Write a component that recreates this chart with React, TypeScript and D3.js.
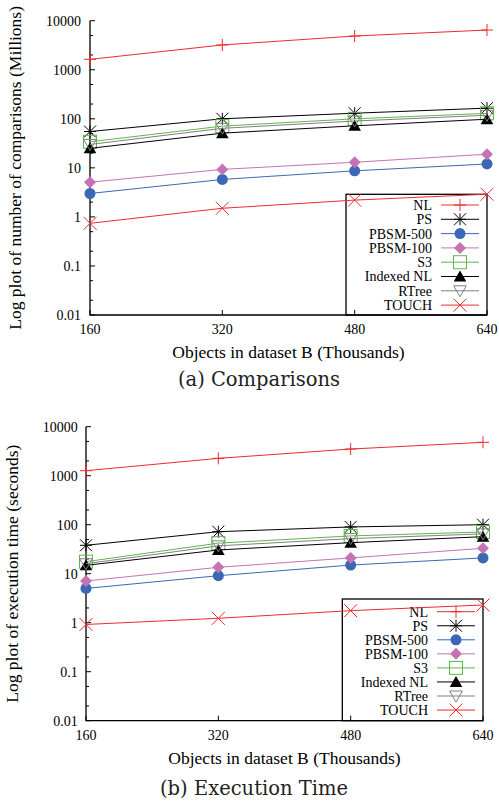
import React from "react";
import * as d3 from "d3";

const W = 499;
const H = 802;

const objects = [160, 320, 480, 640];
const seriesNames = ["NL", "PS", "PBSM-500", "PBSM-100", "S3", "Indexed NL", "RTree", "TOUCH"];

// comparisons (millions)
const cmpNL = [1630, 3200, 4870, 6450];
const cmpPS = [55, 100, 130, 165];
const cmpPBSM500 = [3.0, 5.8, 8.7, 12];
const cmpPBSM100 = [5.1, 9.3, 13, 19];
const cmpS3 = [34, 71, 100, 129];
const cmpIndexedNL = [25, 51, 72, 98];
const cmpRTree = [30, 64, 90, 118];
const cmpTOUCH = [0.74, 1.5, 2.2, 2.9];

// execution time (seconds)
const timeNL = [1265, 2260, 3500, 4800];
const timePS = [38, 72, 90, 100];
const timePBSM500 = [5.0, 9.1, 15, 21];
const timePBSM100 = [7.1, 13.5, 21, 33];
const timeS3 = [17.6, 42, 59, 71];
const timeIndexedNL = [14.8, 30.5, 43, 57];
const timeRTree = [16, 37, 52, 65];
const timeTOUCH = [0.92, 1.23, 1.76, 2.3];

const yTicks = [0.01, 0.1, 1, 10, 100, 1000, 10000];
const yTickLabels = ["0.01", "0.1", "1", "10", "100", "1000", "10000"];

const styles: Record<string, { color: string; marker: string }> = {
  NL: { color: "#ee2a2f", marker: "plus" },
  PS: { color: "#000000", marker: "star" },
  "PBSM-500": { color: "#3b68b4", marker: "circle" },
  "PBSM-100": { color: "#c673b4", marker: "diamond" },
  S3: { color: "#5cb84a", marker: "square" },
  "Indexed NL": { color: "#000000", marker: "triangle" },
  RTree: { color: "#808080", marker: "itriangle" },
  TOUCH: { color: "#ee2a2f", marker: "x" },
};

const serif = "'Liberation Serif', 'Times New Roman', serif";

function Marker({ kind, x, y, color }: { kind: string; x: number; y: number; color: string }) {
  switch (kind) {
    case "plus":
      return (
        <path d={`M${x - 6},${y}H${x + 6}M${x},${y - 6}V${y + 6}`} stroke={color} strokeWidth={1} />
      );
    case "x":
      return (
        <path
          d={`M${x - 6.5},${y - 6.5}L${x + 6.5},${y + 6.5}M${x - 6.5},${y + 6.5}L${x + 6.5},${y - 6.5}`}
          stroke={color}
          strokeWidth={1}
        />
      );
    case "star":
      return (
        <path
          d={`M${x - 6},${y}H${x + 6}M${x},${y - 6}V${y + 6}M${x - 6},${y - 6}L${x + 6},${y + 6}M${x - 6},${y + 6}L${x + 6},${y - 6}`}
          stroke={color}
          strokeWidth={1}
        />
      );
    case "circle":
      return <circle cx={x} cy={y} r={5.5} fill={color} />;
    case "diamond":
      return <path d={`M${x},${y - 6}L${x + 6},${y}L${x},${y + 6}L${x - 6},${y}Z`} fill={color} />;
    case "square":
      return <rect x={x - 6.5} y={y - 6.5} width={13} height={13} fill="none" stroke={color} strokeWidth={1} />;
    case "triangle":
      return <path d={`M${x},${y - 6}L${x + 6.3},${y + 5}L${x - 6.3},${y + 5}Z`} fill={color} />;
    case "itriangle":
      return (
        <path
          d={`M${x},${y + 6}L${x + 6.3},${y - 5}L${x - 6.3},${y - 5}Z`}
          fill="none"
          stroke={color}
          strokeWidth={1}
        />
      );
  }
  return null;
}

type PanelProps = {
  x0: number;
  x1: number;
  yTop: number;
  yBottom: number;
  data: number[][];
  yTitle: string;
  yTitleX: number;
  labelRight: number;
  caption: string;
  captionX: number;
  captionY: number;
  legend: { left: number; top: number; first: number; step: number; textRight: number; lineL: number; lineR: number };
};

function Panel(p: PanelProps) {
  const x = d3.scaleLinear().domain([160, 640]).range([p.x0, p.x1]);
  const y = d3.scaleLog().domain([0.01, 10000]).range([p.yBottom, p.yTop]);
  const line = d3
    .line<number>()
    .x((_, i) => x(objects[i]))
    .y((d) => y(d));
  const minor: number[] = [];
  yTicks.slice(0, -1).forEach((t) => {
    minor.push(t * 2, t * 5);
  });
  const yMid = (p.yTop + p.yBottom) / 2;
  const lg = p.legend;
  return (
    <g>
      {/* axes */}
      <path d={`M${p.x0},${p.yTop}V${p.yBottom}H${p.x1}`} fill="none" stroke="#000" strokeWidth={1.3} />
      {yTicks.map((t, i) => (
        <g key={t}>
          <line x1={p.x0} x2={p.x0 + 5} y1={y(t)} y2={y(t)} stroke="#000" />
          <text
            x={p.labelRight}
            y={y(t)}
            dy="0.35em"
            textAnchor="end"
            fontFamily={serif}
            fontSize={14}
          >
            {yTickLabels[i]}
          </text>
        </g>
      ))}
      {minor.map((t) => (
        <line key={t} x1={p.x0} x2={p.x0 + 3} y1={y(t)} y2={y(t)} stroke="#000" />
      ))}
      {objects.map((o) => (
        <g key={o}>
          <line x1={x(o)} x2={x(o)} y1={p.yBottom} y2={p.yBottom - 5} stroke="#000" />
          <text x={x(o)} y={p.yBottom + 19} textAnchor="middle" fontFamily={serif} fontSize={14}>
            {o}
          </text>
        </g>
      ))}
      <text
        x={(p.x0 + p.x1) / 2}
        y={p.yBottom + 43}
        textAnchor="middle"
        fontFamily={serif}
        fontSize={17.5}
      >
        Objects in dataset B (Thousands)
      </text>
      <text
        transform={`translate(${p.yTitleX},${yMid}) rotate(-90)`}
        textAnchor="middle"
        dy="0.35em"
        fontFamily={serif}
        fontSize={17.5}
      >
        {p.yTitle}
      </text>
      <text
        x={p.captionX}
        y={p.captionY}
        textAnchor="middle"
        fontFamily="'DejaVu Serif', serif"
        fontSize={19.5}
        fill="#222"
      >
        {p.caption}
      </text>

      {/* legend */}
      <rect
        x={lg.left}
        y={lg.top}
        width={p.x1 - lg.left}
        height={p.yBottom - lg.top}
        fill="none"
        stroke="#000"
        strokeWidth={1.3}
      />
      {seriesNames.map((name, i) => {
        const s = styles[name];
        const ly = lg.first + i * lg.step;
        return (
          <g key={name}>
            <text x={lg.textRight} y={ly} dy="0.35em" textAnchor="end" fontFamily={serif} fontSize={14}>
              {name}
            </text>
            <line x1={lg.lineL} x2={lg.lineR} y1={ly} y2={ly} stroke={s.color} strokeWidth={1} />
            <Marker kind={s.marker} x={(lg.lineL + lg.lineR) / 2} y={ly} color={s.color} />
          </g>
        );
      })}

      {/* series */}
      {seriesNames.map((name, si) => {
        const s = styles[name];
        const vals = p.data[si];
        return (
          <g key={name}>
            <path d={line(vals) ?? ""} fill="none" stroke={s.color} strokeWidth={1} />
            {vals.map((v, i) => (
              <Marker key={i} kind={s.marker} x={x(objects[i])} y={y(v)} color={s.color} />
            ))}
          </g>
        );
      })}
    </g>
  );
}

export default function App() {
  return (
    <svg
      width={W}
      height={H}
      style={{ position: "absolute", left: 0, top: 0, background: "#fff" }}
    >
      <Panel
        x0={90}
        x1={487}
        yTop={20.7}
        yBottom={315}
        data={[cmpNL, cmpPS, cmpPBSM500, cmpPBSM100, cmpS3, cmpIndexedNL, cmpRTree, cmpTOUCH]}
        yTitle="Log plot of number of comparisons (Millions)"
        yTitleX={15}
        labelRight={81}
        caption="(a) Comparisons"
        captionX={259}
        captionY={386}
        legend={{ left: 346, top: 194.3, first: 205, step: 14.3, textRight: 432, lineL: 441, lineR: 479 }}
      />
      <Panel
        x0={86}
        x1={483}
        yTop={426.7}
        yBottom={720.7}
        data={[timeNL, timePS, timePBSM500, timePBSM100, timeS3, timeIndexedNL, timeRTree, timeTOUCH]}
        yTitle="Log plot of execution time (seconds)"
        yTitleX={11.5}
        labelRight={77.7}
        caption="(b) Execution Time"
        captionX={254}
        captionY={795}
        legend={{ left: 342.3, top: 599, first: 611.7, step: 14.05, textRight: 428, lineL: 437, lineR: 475 }}
      />
    </svg>
  );
}
